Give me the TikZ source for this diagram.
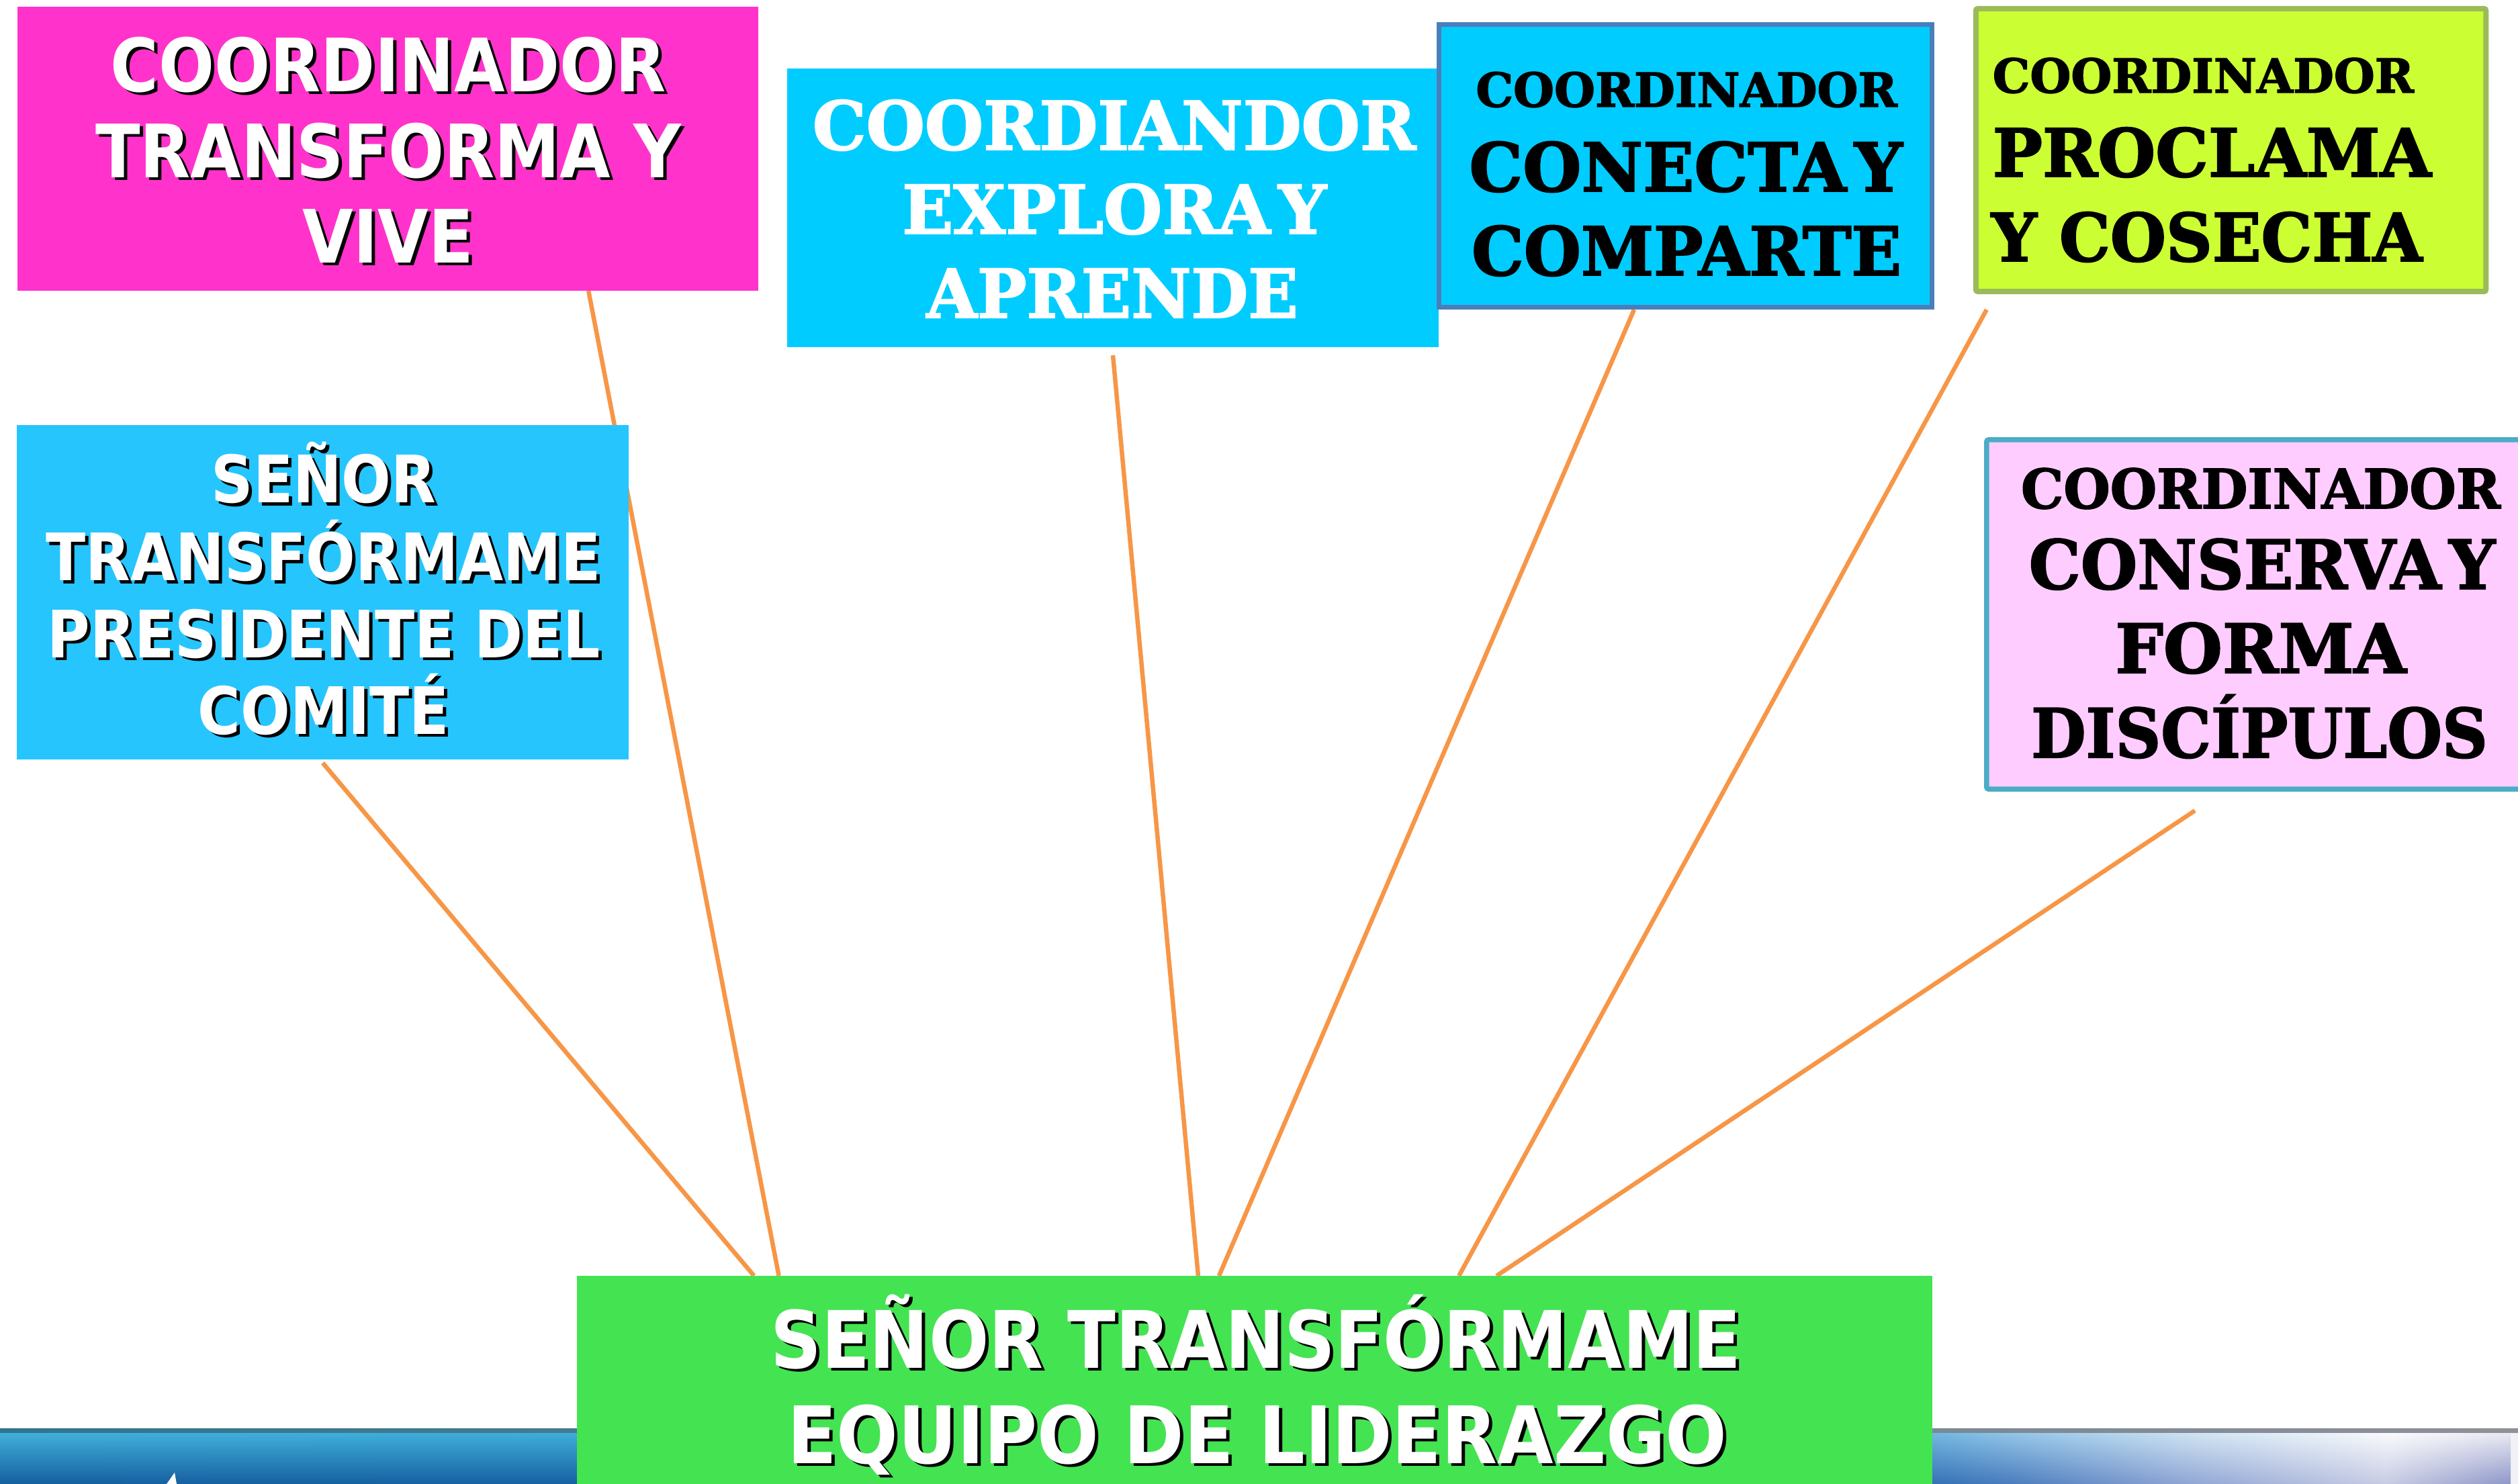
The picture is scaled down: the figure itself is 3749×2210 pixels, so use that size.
\documentclass[tikz,border=0pt]{standalone}
\usepackage{fontspec}
\usepackage{graphicx}
\usetikzlibrary{fadings}
\newfontfamily\vsans{DejaVu Sans}[FakeStretch=0.89]
\newfontfamily\vsansw{DejaVu Sans}[FakeStretch=0.913]
\newfontfamily\slab{DejaVu Serif}[BoldFeatures={FakeBold=2}]
\definecolor{cpink}{HTML}{FF33CC}
\definecolor{ccyan}{HTML}{00CCFF}
\definecolor{csky}{HTML}{26C5FE}
\definecolor{cgreen}{HTML}{44E352}
\definecolor{clime}{HTML}{CCFF33}
\definecolor{climeb}{HTML}{9BBB59}
\definecolor{crose}{HTML}{FFCCFF}
\definecolor{croseb}{HTML}{4BACC6}
\definecolor{cblueb}{HTML}{4A7EBB}
\definecolor{cline}{HTML}{F79646}
\definecolor{bt0}{HTML}{45B7DF}
\definecolor{bt1}{HTML}{3FB2DE}
\definecolor{bt2}{HTML}{60B5E0}
\definecolor{bt3}{HTML}{9ACCEB}
\definecolor{bt4}{HTML}{D5E8F5}
\definecolor{bt5}{HTML}{FFFFFF}
\definecolor{bt6}{HTML}{F0F0F5}
\definecolor{bb0}{HTML}{1560A0}
\definecolor{bb1}{HTML}{1A63A5}
\definecolor{bb2}{HTML}{2468B0}
\definecolor{bb3}{HTML}{4A7CBE}
\definecolor{bb4}{HTML}{8FA5D5}
\definecolor{bb5}{HTML}{C8CCE4}
\definecolor{bb6}{HTML}{8E96C8}
\definecolor{edgeL}{HTML}{2F7590}
\definecolor{edgeR}{HTML}{909098}
\pgfdeclarehorizontalshading{bandtop}{100bp}{color(0bp)=(bt0); color(25bp)=(bt0); color(50bp)=(bt1); color(62.25bp)=(bt2); color(65bp)=(bt3); color(68.5bp)=(bt4); color(72.5bp)=(bt5); color(75bp)=(bt6); color(100bp)=(bt6)}
\pgfdeclarehorizontalshading{bandbot}{100bp}{color(0bp)=(bb0); color(25bp)=(bb0); color(50bp)=(bb1); color(62.25bp)=(bb2); color(65bp)=(bb3); color(68.5bp)=(bb4); color(72.5bp)=(bb5); color(75bp)=(bb6); color(100bp)=(bb6)}
\pgfdeclarelayer{bg}
\pgfdeclarelayer{lines}
\pgfsetlayers{bg,lines,main}
\newcommand\shadowed[1]{\leavevmode\rlap{\kern0.05cm\raisebox{-0.04cm}[0pt][0pt]{\color{black}#1}}#1}
\newcommand\tightY{\hspace{0.12em}Y}
\tikzset{
  box/.style={rectangle, inner sep=0pt, outer sep=0pt},
  conn/.style={draw=cline, line width=0.065cm},
  wsans/.style={inner sep=0pt, anchor=base, text=white},
  slabtxt/.style={inner sep=0pt, anchor=base},
}
\begin{document}
\begin{tikzpicture}[x=0.01cm,y=-0.01cm]
\useasboundingbox (0,0) rectangle (3749,2210);

% boxes
\node[box, fill=cpink, minimum width=11.03cm, minimum height=4.23cm] (pink) at (577.5,221.5) {};
\node[box, fill=ccyan, minimum width=9.70cm, minimum height=4.15cm] (explora) at (1657,309.5) {};
\node[box, fill=ccyan, draw=cblueb, line width=0.07cm, minimum width=7.34cm, minimum height=4.21cm] (conecta) at (2509.5,247) {};
\node[box, fill=clime, draw=climeb, line width=0.08cm, rounded corners=0.03cm, minimum width=7.59cm, minimum height=4.21cm] (proclama) at (3321.5,223.5) {};
\node[box, fill=crose, draw=croseb, line width=0.075cm, rounded corners=0.03cm, minimum width=8.18cm, minimum height=5.20cm] (conserva) at (3367,915) {};
\node[box, fill=csky, minimum width=9.11cm, minimum height=4.98cm] (senor) at (480.5,882) {};
\node[box, fill=cgreen, minimum width=20.16cm, minimum height=3.30cm] (green) at (1868,2065) {};

% pink text
\begin{scope}[every node/.style={wsans, font=\vsans\bfseries\fontsize{31.2pt}{36pt}\selectfont}]
\node (pinkA) at (578,137) {\shadowed{COORDINADOR}};
\node (pinkB) at (578,265) {\shadowed{TRANSFORMA Y}};
\node (pinkC) at (578,392) {\shadowed{VIVE}};
\end{scope}

% senor text
\begin{scope}[every node/.style={wsans, font=\vsans\bfseries\fontsize{27.7pt}{32pt}\selectfont}]
\node (senA) at (482,749) {\shadowed{SEÑOR}};
\node (senB) at (482,865) {\shadowed{TRANSFÓRMAME}};
\node (senC) at (482,979) {\shadowed{PRESIDENTE DEL}};
\node (senD) at (482,1093) {\shadowed{COMITÉ}};
\end{scope}

% green text
\node[wsans, font=\vsans\bfseries\fontsize{33.6pt}{38pt}\selectfont] (grA) at (1870,2037) {\shadowed{SEÑOR TRANSFÓRMAME}};
\node[wsans, font=\vsansw\bfseries\fontsize{33.6pt}{38pt}\selectfont] (grB) at (1872,2179) {\shadowed{EQUIPO DE LIDERAZGO}};

% explora text
\begin{scope}[every node/.style={slabtxt, text=white, font=\slab\bfseries\fontsize{28.5pt}{32pt}\selectfont}]
\node (expA) at (1659,223) {COORDIANDOR};
\node (expB) at (1659,348) {EXPLORA\tightY};
\node (expC) at (1656,473) {\scalebox{0.975}[1]{APRENDE}};
\end{scope}

% conecta text
\node[slabtxt, font=\slab\bfseries\fontsize{19.9pt}{24pt}\selectfont] (conA) at (2511,159) {COORDINADOR};
\node[slabtxt, font=\slab\bfseries\fontsize{28.5pt}{32pt}\selectfont] (conB) at (2510,285) {CONECTA\tightY};
\node[slabtxt, font=\slab\bfseries\fontsize{28.5pt}{32pt}\selectfont] (conC) at (2511,410) {\scalebox{0.975}[1]{COMPARTE}};

% proclama text
\node[slabtxt, anchor=base west, font=\slab\bfseries\fontsize{19.9pt}{24pt}\selectfont] (proA) at (2966,138) {COORDINADOR};
\node[slabtxt, anchor=base west, font=\slab\bfseries\fontsize{28.1pt}{32pt}\selectfont] (proB) at (2966,263) {PROCLAMA};
\node[slabtxt, anchor=base west, font=\slab\bfseries\fontsize{28.1pt}{32pt}\selectfont] (proC) at (2964,389) {\scalebox{0.965}[1]{Y COSECHA}};

% conserva text
\node[slabtxt, font=\slab\bfseries\fontsize{23pt}{27pt}\selectfont] (cseA) at (3366,757) {\scalebox{0.985}[1]{COORDINADOR}};
\node[slabtxt, font=\slab\bfseries\fontsize{28.7pt}{32pt}\selectfont] (cseB) at (3368,877) {\scalebox{0.96}[1]{CONSERVA\tightY}};
\node[slabtxt, font=\slab\bfseries\fontsize{28.7pt}{32pt}\selectfont] (cseC) at (3366,1002) {FORMA};
\node[slabtxt, font=\slab\bfseries\fontsize{28.7pt}{32pt}\selectfont] (cseD) at (3364,1128) {\scalebox{0.93}[1]{DISCÍPULOS}};

% connectors
\begin{pgfonlayer}{lines}
\draw[conn] ([xshift=2.985cm]pink.south) -- ([xshift=-7.08cm]green.north);
\draw[conn] ([yshift=-0.05cm]senor.south) -- ([xshift=-7.45cm]green.north);
\draw[conn] ([yshift=-0.12cm]explora.south) -- ([xshift=-0.84cm]green.north);
\draw[conn] ([xshift=-0.765cm,yshift=-0.035cm]conecta.south) -- ([xshift=-0.53cm]green.north);
\draw[conn] ([xshift=-3.635cm,yshift=-0.27cm]proclama.south) -- ([xshift=3.04cm]green.north);
\draw[conn] ([xshift=-0.99cm,yshift=-0.32cm]conserva.south) -- ([xshift=3.60cm]green.north);
\end{pgfonlayer}

% background band
\begin{pgfonlayer}{bg}
\fill[white] (0,0) rectangle (3749,2210);
\shade[shading=bandtop] (0,2127) rectangle (3749,2210);
\shade[shading=bandbot, path fading=north] (0,2127) rectangle (3749,2210);
\shade[left color=edgeL, right color=edgeR] (0,2127) rectangle (3749,2133);
\fill[white] (260,2193) -- (263,2210) -- (248,2210) -- cycle;
\end{pgfonlayer}
\end{tikzpicture}
\end{document}
